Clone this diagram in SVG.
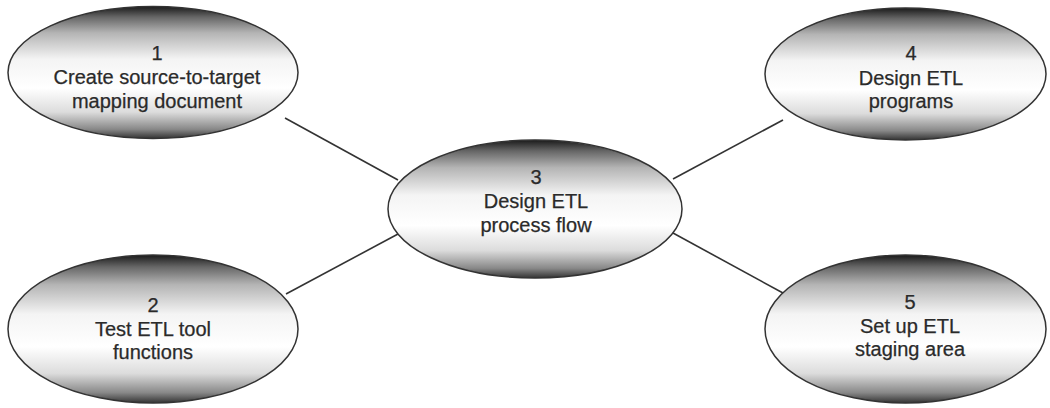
<svg xmlns="http://www.w3.org/2000/svg" width="1050" height="408" viewBox="0 0 1050 408">
<defs>
<linearGradient id="g" x1="0" y1="0" x2="0" y2="1">
<stop offset="0" stop-color="#1a1a1a"/>
<stop offset="0.08" stop-color="#666"/>
<stop offset="0.2" stop-color="#b4b4b4"/>
<stop offset="0.4" stop-color="#f4f4f4"/>
<stop offset="0.62" stop-color="#fff"/>
<stop offset="0.8" stop-color="#dcdcdc"/>
<stop offset="0.93" stop-color="#888"/>
<stop offset="1" stop-color="#333"/>
</linearGradient>
<style>
.n ellipse{fill:url(#g);stroke:#333;stroke-width:1.5}
.n text{font-family:"Liberation Sans",Arial,sans-serif;font-size:20px;fill:#2a2a2a;stroke:#2a2a2a;stroke-width:0.25;text-anchor:middle}
.c line{stroke:#333;stroke-width:1.6}
</style>
</defs>
<rect width="1050" height="408" fill="#fff"/>
<g class="c" id="connectors">
<line x1="285" y1="118" x2="398" y2="180"/>
<line x1="286" y1="294" x2="398" y2="234"/>
<line x1="673" y1="179" x2="783" y2="120"/>
<line x1="673" y1="233" x2="783" y2="293"/>
</g>
<g class="n" id="node1">
<ellipse cx="153" cy="72.5" rx="145" ry="66"/>
<text x="157" y="60">1</text>
<text x="157" y="84">Create source-to-target</text>
<text x="157" y="108">mapping document</text>
</g>
<g class="n" id="node2">
<ellipse cx="153" cy="329" rx="145" ry="74"/>
<text x="153" y="312">2</text>
<text x="153" y="336">Test ETL tool</text>
<text x="153" y="359">functions</text>
</g>
<g class="n" id="node3">
<ellipse cx="535" cy="209" rx="147" ry="69"/>
<text x="536" y="184">3</text>
<text x="536" y="208">Design ETL</text>
<text x="536" y="232">process flow</text>
</g>
<g class="n" id="node4">
<ellipse cx="905.5" cy="74" rx="140.5" ry="66"/>
<text x="911" y="60">4</text>
<text x="911" y="85">Design ETL</text>
<text x="911" y="108">programs</text>
</g>
<g class="n" id="node5">
<ellipse cx="905.5" cy="329" rx="140.5" ry="74"/>
<text x="910" y="309">5</text>
<text x="910" y="333">Set up ETL</text>
<text x="910" y="356">staging area</text>
</g>
</svg>
